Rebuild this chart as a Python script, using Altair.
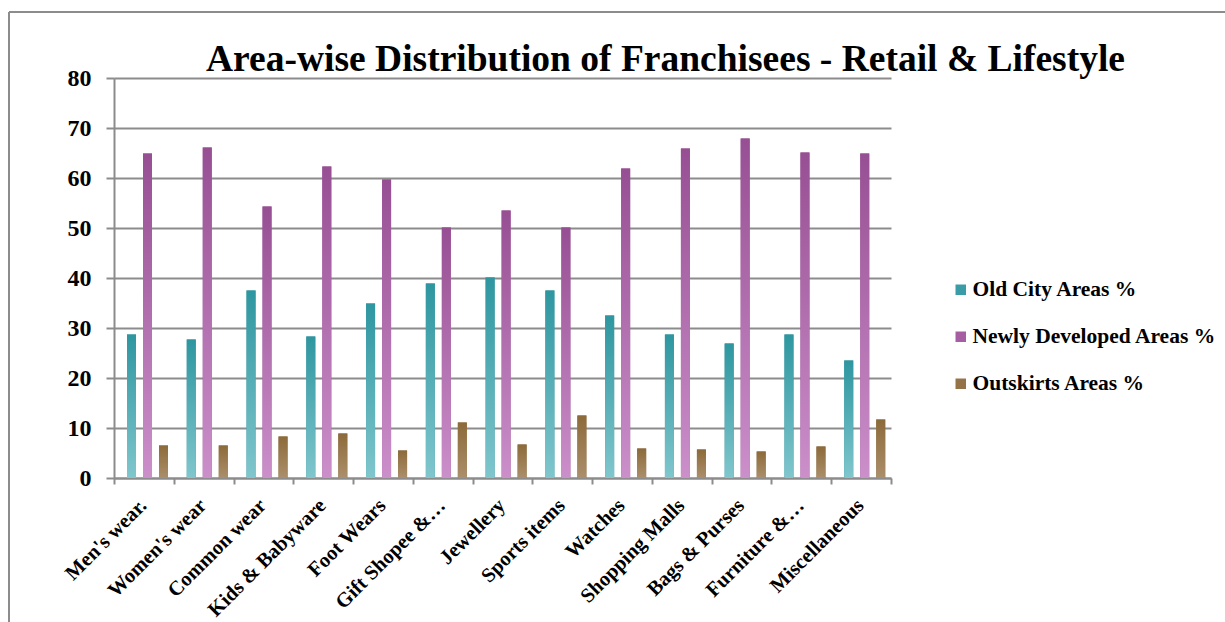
import altair as alt
import pandas as pd

categories = ["Men's wear.", "Women's wear", "Common wear", "Kids & Babyware",
              "Foot Wears", "Gift Shopee &…", "Jewellery", "Sports items",
              "Watches", "Shopping Malls", "Bags & Purses", "Furniture &…",
              "Miscellaneous"]
series = ["Old City Areas %", "Newly Developed Areas %", "Outskirts Areas %"]
old_city = [28.7, 27.7, 37.5, 28.3, 34.9, 38.9, 40.1, 37.5, 32.5, 28.7, 26.9, 28.7, 23.5]
newly = [64.9, 66.1, 54.3, 62.3, 59.7, 50.1, 53.5, 50.1, 61.9, 65.9, 67.9, 65.1, 64.9]
outskirts = [6.5, 6.5, 8.3, 8.9, 5.5, 11.1, 6.7, 12.5, 5.9, 5.7, 5.3, 6.3, 11.7]
y_ticks = [0, 10, 20, 30, 40, 50, 60, 70, 80]

solid = ["#3a9ca6", "#a65ea2", "#957349"]
grads = [("#2e96a0", "#80c6cd"), ("#974f93", "#cb8fca"), ("#8c6a3a", "#ab8f6b")]

rows = []
for s, vals in zip(series, [old_city, newly, outskirts]):
    for c, v in zip(categories, vals):
        rows.append({"category": c, "series": s, "value": v})
df = pd.DataFrame(rows)

FONT = "Liberation Serif"
GRAY = "#8c8c8c"

x_enc = alt.X("category:N", sort=categories,
              scale=alt.Scale(paddingInner=0, paddingOuter=0),
              axis=alt.Axis(title=None, labelAngle=-45, labelAlign="right",
                            labelBaseline="top", labelFont=FONT, labelFontSize=20.5,
                            labelFontWeight="bold", labelColor="black", labelLimit=0,
                            labelPadding=11, labelOffset=-8, tickBand="extent",
                            tickSize=6, tickColor=GRAY, tickWidth=2,
                            domainColor=GRAY, domainWidth=2, grid=False))
xo_enc = alt.XOffset("series:N", sort=series,
                     scale=alt.Scale(domain=series, range=[13, 54],
                                     paddingInner=0.4375, paddingOuter=0))
y_enc = alt.Y("value:Q", scale=alt.Scale(domain=[0, 80], nice=False),
              axis=alt.Axis(title=None, values=y_ticks, labelFont=FONT,
                            labelFontSize=24, labelFontWeight="bold",
                            labelColor="black", labelPadding=15, tickSize=8,
                            tickColor=GRAY, tickWidth=2, domainColor=GRAY,
                            domainWidth=2, gridColor=GRAY, gridWidth=2))

base = alt.Chart(df).encode(x=x_enc, xOffset=xo_enc, y=y_enc)

shadow = base.mark_bar(color="#000000", opacity=0.10, xOffset=3)

legend_layer = base.mark_bar().encode(
    color=alt.Color("series:N", sort=series,
                    scale=alt.Scale(domain=series, range=solid),
                    legend=alt.Legend(title=None, orient="none", legendX=836,
                                      legendY=201, symbolType="square",
                                      symbolSize=110, symbolStrokeWidth=0,
                                      labelFont=FONT, labelFontSize=21.5,
                                      labelFontWeight="bold", labelColor="black",
                                      labelLimit=0, rowPadding=24, labelOffset=1)))

layers = [shadow, legend_layer]
for s, (top, bottom) in zip(series, grads):
    layers.append(
        base.transform_filter(alt.datum.series == s).mark_bar(
            color=alt.LinearGradient(
                gradient="linear",
                stops=[alt.GradientStop(color=top, offset=0),
                       alt.GradientStop(color=bottom, offset=1)],
                x1=0, x2=0, y1=0, y2=1)))

frame_df = pd.DataFrame({"k": [0]})
frame_top = alt.Chart(frame_df).mark_rule(color=GRAY, strokeWidth=2).encode(
    x=alt.value(-105), x2=alt.value(1111), y=alt.value(-66))
frame_left = alt.Chart(frame_df).mark_rule(color=GRAY, strokeWidth=2).encode(
    x=alt.value(-105), y=alt.value(-66), y2=alt.value(544))
layers += [frame_top, frame_left]

chart = alt.layer(*layers).properties(
    width=777, height=400,
    padding={"left": 114, "top": 78, "right": 334, "bottom": 144},
    autosize=alt.AutoSizeParams(type="none"),
    title=alt.TitleParams("Area-wise Distribution of Franchisees - Retail & Lifestyle",
                          font=FONT, fontSize=37.5, fontWeight="bold", color="black",
                          anchor="middle", frame="group", dx=163, offset=-67),
).configure_view(stroke=None)

chart.save("out.html", embed_options={"renderer": "svg", "actions": False})
